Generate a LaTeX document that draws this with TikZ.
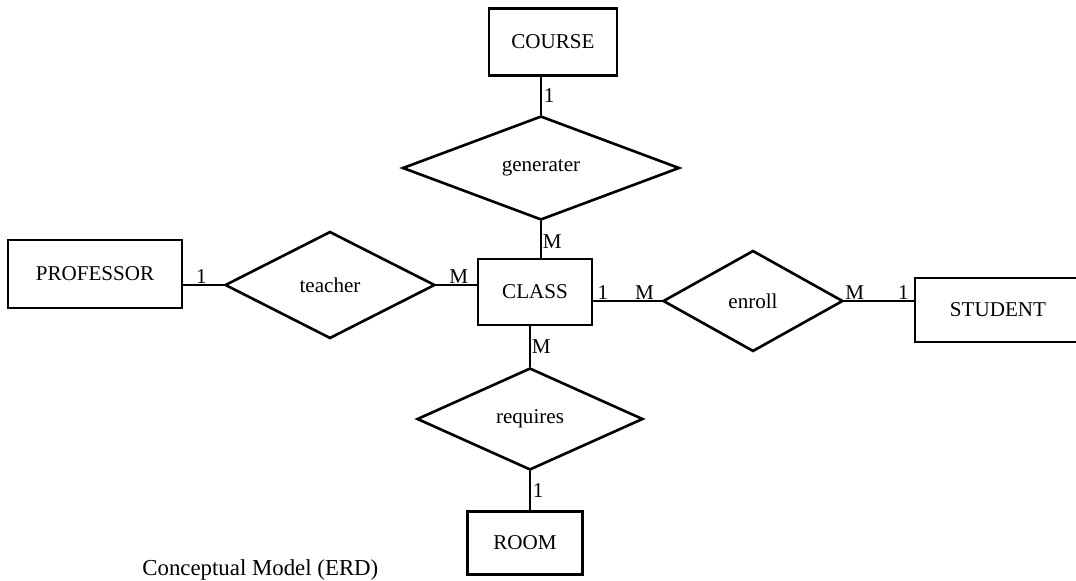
\documentclass[tikz,border=0pt]{standalone}
\usepackage{fontspec}
\setmainfont{Liberation Serif}
\usetikzlibrary{shapes.geometric}
\usetikzlibrary{positioning}
\tikzset{
    entity/.style={draw,rectangle,line width=1.2pt,inner sep=0pt,font=\fontsize{12}{14}\selectfont},
    relation/.style={draw,diamond,aspect=2.5,line width=1.5pt,inner sep=0pt,font=\fontsize{12}{14}\selectfont},
    card/.style={inner sep=1pt,font=\fontsize{12}{14}\selectfont},
    link/.style={line width=1.2pt},
}

\begin{document}
\begin{tikzpicture}[x=0.02cm,y=-0.02cm]
    \useasboundingbox (0,0) rectangle (1076,581);

    % entities
    \node[entity,minimum width=2.28cm,minimum height=1.32cm] (class) at (535,292) {CLASS};
    \node[entity,minimum width=2.56cm,minimum height=1.34cm] (course) at (553,42) {COURSE};
    \node[entity,minimum width=3.48cm,minimum height=1.36cm] (prof) at (95,274) {PROFESSOR};
    \node[entity,minimum width=3.32cm,minimum height=1.28cm] (student) at (998,310) {STUDENT};
    \node[entity,minimum width=2.30cm,minimum height=1.26cm] (room) at (525,543) {ROOM};

    % relationships
    \node[relation,minimum width=5.54cm,minimum height=2.08cm] (gen) at (541,168) {generater};
    \node[relation,minimum width=4.20cm,minimum height=2.14cm] (teach) at (330,285) {teacher};
    \node[relation,minimum width=3.60cm,minimum height=2.02cm] (enroll) at (753,301) {enroll};
    \node[relation,minimum width=4.52cm,minimum height=2.04cm] (req) at (530,419) {requires};

    % connectors with cardinalities
    \draw[link] (gen.north) -- (gen.north |- course.south)
        node[card,pos=0.5,right] (c1) {1};
    \draw[link] (gen.south) -- (gen.south |- class.north)
        node[card,pos=0.55,right,inner sep=0.5pt] (c2) {M};
    \draw[link] (prof.east |- teach.west) -- (teach.west)
        node[card,pos=0.45,above,inner sep=0pt] (c3) {1};
    \draw[link] (teach.east) -- (teach.east -| class.west)
        node[card,pos=0.55,above,inner sep=0pt] (c4) {M};
    \draw[link] (class.east |- enroll.west) -- (enroll.west)
        node[card,pos=0.05,above right,inner sep=0pt] (c5) {1}
        node[card,pos=0.75,above,inner sep=0pt] (c6) {M};
    \draw[link] (enroll.east) -- (enroll.east -| student.west)
        node[card,pos=0.15,above,inner sep=0pt] (c7) {M}
        node[card,pos=0.85,above,inner sep=0pt] (c8) {1};
    \draw[link] (req.north) -- (req.north |- class.south)
        node[card,pos=0.5,right,inner sep=0.5pt] (c9) {M};
    \draw[link] (req.south) -- (req.south |- room.north)
        node[card,pos=0.5,right] (c10) {1};

    \node[anchor=base west,inner sep=0pt,font=\fontsize{13}{15}\selectfont] (caption) at (142,575) {Conceptual Model (ERD)};

\end{tikzpicture}
\end{document}
